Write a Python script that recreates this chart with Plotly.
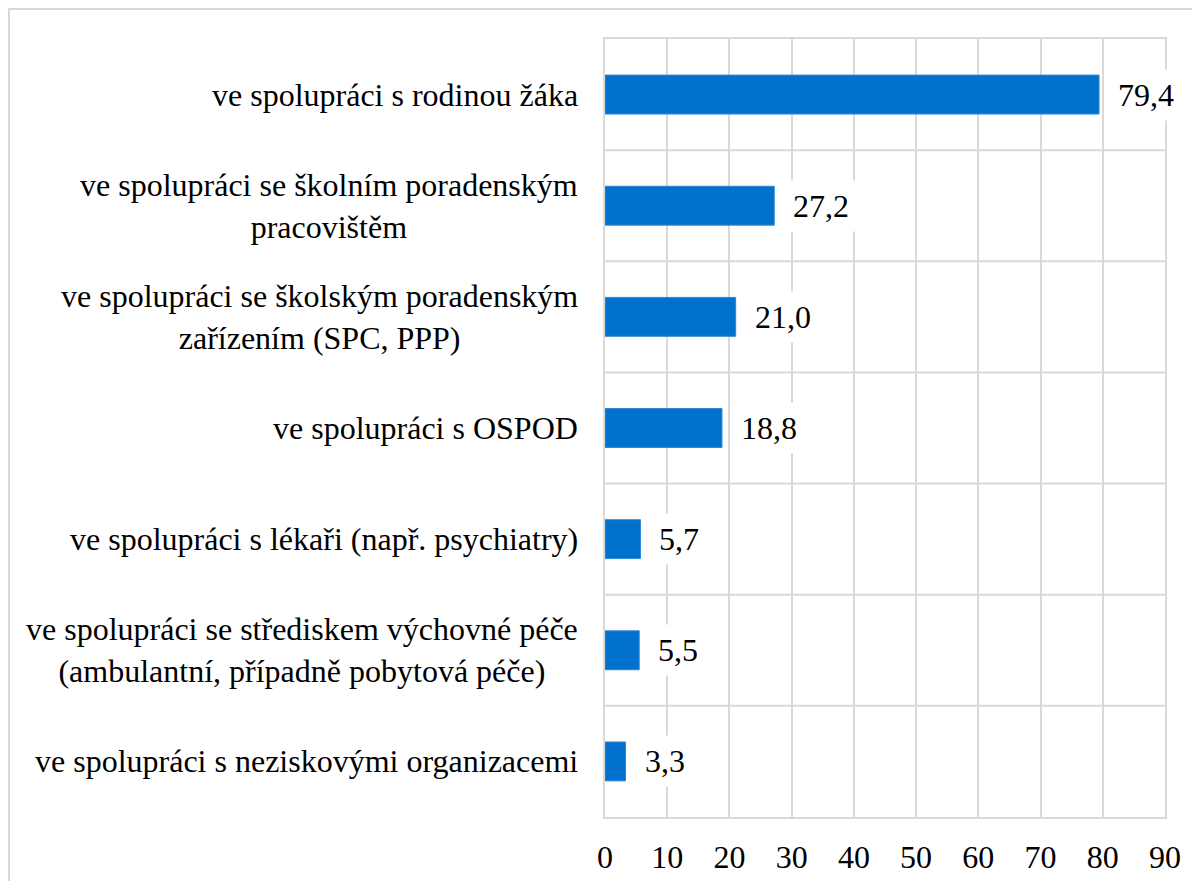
import plotly.graph_objects as go

categories = [
    "ve spolupráci s rodinou žáka",
    "ve spolupráci se školním poradenským<br>pracovištěm",
    "ve spolupráci se školským poradenským<br>zařízením (SPC, PPP)",
    "ve spolupráci s OSPOD",
    "ve spolupráci s lékaři (např. psychiatry)",
    "ve spolupráci se střediskem výchovné péče<br>(ambulantní, případně pobytová péče)",
    "ve spolupráci s neziskovými organizacemi",
]
values = [79.4, 27.2, 21.0, 18.8, 5.7, 5.5, 3.3]
x_ticks = [0, 10, 20, 30, 40, 50, 60, 70, 80, 90]

FONT = "'Liberation Serif', 'Times New Roman', Tinos, 'DejaVu Serif', serif"
FS = 32
GRID = "#d9d9d9"
BAR = "#0072CE"

n = len(categories)
ypos = list(range(n))

W, H = 1192, 873
PL, PR, PT, PB = 597, 1157, 31, 809  # plot area edges in figure px

fig = go.Figure()
fig.add_trace(go.Bar(
    x=values, y=ypos, orientation="h", width=0.35,
    marker=dict(color=BAR, line=dict(color="#2f86d6", width=1)),
    hoverinfo="x",
))

annotations = []
for i, lab in enumerate(categories):
    annotations.append(dict(
        x=0, xref="paper", y=i, yref="y", text=lab, showarrow=False,
        xanchor="right", yanchor="middle", align="center", xshift=-25,
        font=dict(family=FONT, size=FS, color="black"),
    ))
for i, v in enumerate(values):
    annotations.append(dict(
        x=v, xref="x", y=i, yref="y", text=f"{v:.1f}".replace(".", ","),
        showarrow=False, xanchor="left", yanchor="middle", xshift=11,
        bgcolor="white", borderpad=7,
        font=dict(family=FONT, size=FS, color="black"),
    ))

shapes = []
for i in range(n - 1):
    shapes.append(dict(type="line", xref="x", yref="y", x0=x_ticks[0], x1=x_ticks[-1],
                       y0=i + 0.5, y1=i + 0.5, line=dict(color=GRID, width=2), layer="below"))
# outer frame (starts 1px inside the figure's top-left corner)
pw, ph = PR - PL, PB - PT
shapes.append(dict(type="rect", xref="paper", yref="paper",
                   x0=(1 - PL) / pw, x1=(W + 20 - PL) / pw,
                   y0=-(H + 20 - PB) / ph, y1=1 + (PT - 1) / ph,
                   line=dict(color=GRID, width=2), fillcolor="rgba(0,0,0,0)"))

fig.update_layout(
    width=W, height=H,
    margin=dict(l=PL, r=W - PR, t=PT, b=H - PB, autoexpand=False),
    paper_bgcolor="white", plot_bgcolor="white",
    showlegend=False,
    annotations=annotations, shapes=shapes,
    font=dict(family=FONT, size=FS, color="black"),
    xaxis=dict(range=[x_ticks[0], x_ticks[-1]], tickvals=x_ticks, automargin=False,
               showgrid=True, gridcolor=GRID, gridwidth=2, zeroline=False,
               showline=True, linecolor=GRID, linewidth=2, mirror=True,
               ticks="outside", ticklen=11, tickcolor="rgba(0,0,0,0)",
               tickfont=dict(family=FONT, size=FS, color="black"), fixedrange=True),
    yaxis=dict(range=[n - 0.5, -0.5], showgrid=False, zeroline=False, automargin=False,
               showticklabels=False, showline=True, linecolor=GRID, linewidth=2,
               mirror=True, fixedrange=True),
)

fig.write_html("out.html")
